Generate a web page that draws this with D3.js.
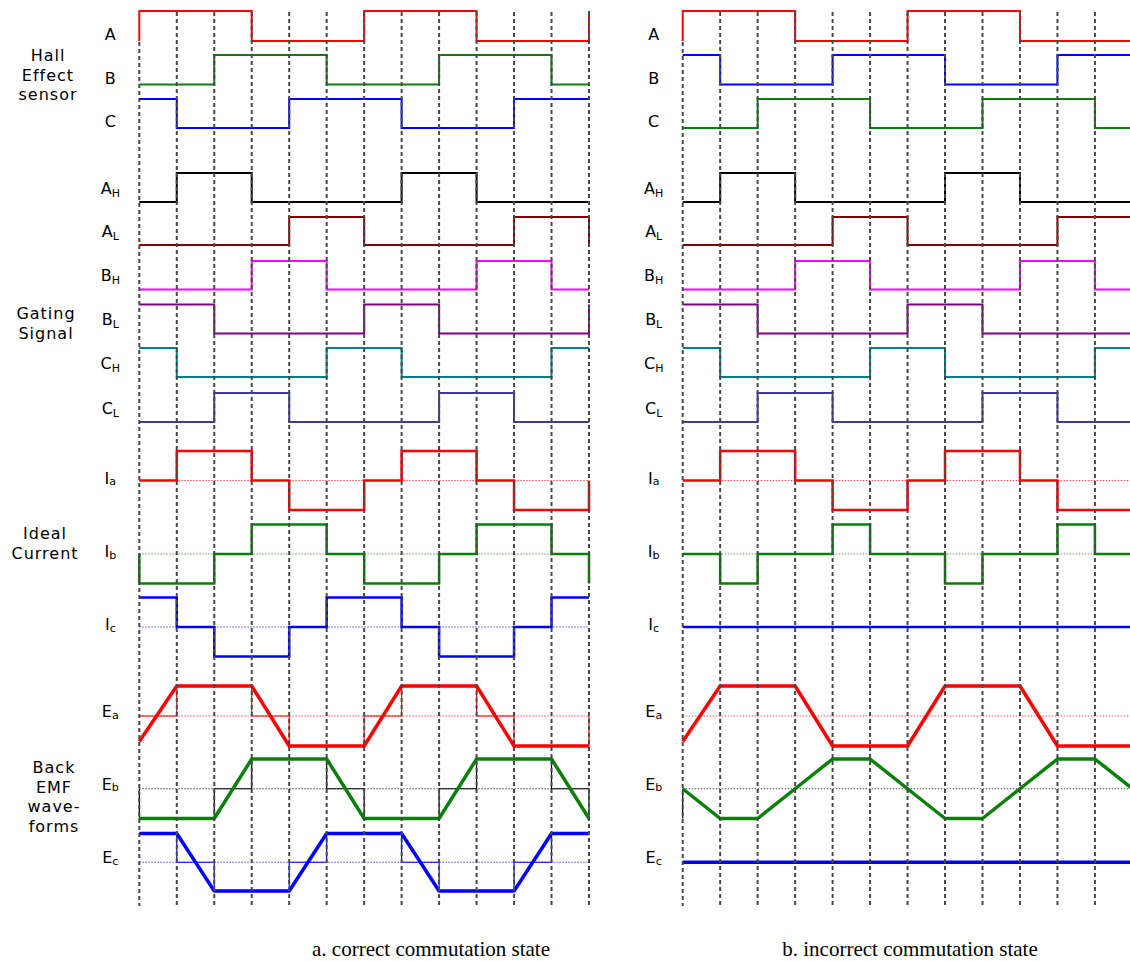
<!DOCTYPE html>
<html>
<head>
<meta charset="utf-8">
<script src="https://cdn.jsdelivr.net/npm/d3@7"></script>
<style>
  body { margin: 0; background: #fff; }
  svg text { font-family: "DejaVu Sans", Arial, sans-serif; fill: #000; }
  svg text.caption { font-family: "Liberation Serif", "Times New Roman", serif; }
</style>
</head>
<body>
<svg id="chart" width="1130" height="961"></svg>
<script>
// two electrical cycles, 12 commutation intervals of 60 deg
const steps = 12;

// step signals: [level before t=0, 12 interval levels, level after t=12]
const hallA  = [0, 1, 1, 1, 0, 0, 0, 1, 1, 1, 0, 0, 0, 1];
const hallB  = [0, 0, 0, 1, 1, 1, 0, 0, 0, 1, 1, 1, 0, 0];
const hallC  = [1, 1, 0, 0, 0, 1, 1, 1, 0, 0, 0, 1, 1, 1];
const gateAH = [0, 0, 1, 1, 0, 0, 0, 0, 1, 1, 0, 0, 0, 0];
const gateAL = [0, 0, 0, 0, 0, 1, 1, 0, 0, 0, 0, 1, 1, 0];
const gateBH = [0, 0, 0, 0, 1, 1, 0, 0, 0, 0, 1, 1, 0, 0];
const gateBL = [1, 1, 1, 0, 0, 0, 0, 1, 1, 0, 0, 0, 0, 1];
const gateCH = [1, 1, 0, 0, 0, 0, 1, 1, 0, 0, 0, 0, 1, 1];
const gateCL = [0, 0, 0, 1, 1, 0, 0, 0, 0, 1, 1, 0, 0, 0];
const curA   = [0, 0, 1, 1, 0, -1, -1, 0, 1, 1, 0, -1, -1, 0];
const curB   = [0, -1, -1, 0, 1, 1, 0, -1, -1, 0, 1, 1, 0, -1];
const curC   = [1, 1, 0, -1, -1, 0, 1, 1, 0, -1, -1, 0, 1, 1];
// incorrect commutation: sensors B and C swapped
const curBBad = [0, 0, -1, 0, 0, 1, 0, 0, -1, 0, 0, 1, 0, 0];
const curCBad = [0, 0, 0, 0, 0, 0, 0, 0, 0, 0, 0, 0, 0, 0];

// back EMF: value at each boundary t = 0..12
const emfA    = [-0.85, 1, 1, 1, -1, -1, -1, 1, 1, 1, -1, -1, -1];
const emfB    = [-1, -1, -1, 1, 1, 1, -1, -1, -1, 1, 1, 1, -1];
const emfC    = [1, 1, -1, -1, -1, 1, 1, 1, -1, -1, -1, 1, 1];
const emfBBad = [0, -1, -1, 0, 1, 1, 0, -1, -1, 0, 1, 1, 0];
const emfCBad = [0, 0, 0, 0, 0, 0, 0, 0, 0, 0, 0, 0, 0];
const emfBBadTrace = [[0, 0], [0, -1]];

const RED = '#ff0000', GREEN = '#0a800a', BLUE = '#0000ff';

const rows = [
    { key: 'A',  name: 'A', sub: '',  hi: 11,    lo: 41,    kind: 'hall' },
    { key: 'B',  name: 'B', sub: '',  hi: 55,    lo: 84.5,  kind: 'hall' },
    { key: 'C',  name: 'C', sub: '',  hi: 99,    lo: 128,   kind: 'hall' },
    { key: 'AH', name: 'A', sub: 'H', hi: 173,   lo: 202,   kind: 'gate' },
    { key: 'AL', name: 'A', sub: 'L', hi: 217,   lo: 245,   kind: 'gate' },
    { key: 'BH', name: 'B', sub: 'H', hi: 261,   lo: 289.5, kind: 'gate' },
    { key: 'BL', name: 'B', sub: 'L', hi: 304.5, lo: 333.5, kind: 'gate' },
    { key: 'CH', name: 'C', sub: 'H', hi: 348,   lo: 377,   kind: 'gate' },
    { key: 'CL', name: 'C', sub: 'L', hi: 393,   lo: 422,   kind: 'gate' },
    { key: 'Ia', name: 'I', sub: 'a', hi: 451,   lo: 510,   kind: 'cur' },
    { key: 'Ib', name: 'I', sub: 'b', hi: 524.5, lo: 583.5, kind: 'cur' },
    { key: 'Ic', name: 'I', sub: 'c', hi: 597.5, lo: 656.5, kind: 'cur' },
    { key: 'Ea', name: 'E', sub: 'a', hi: 686,   lo: 746,   kind: 'emf' },
    { key: 'Eb', name: 'E', sub: 'b', hi: 759,   lo: 818.5, kind: 'emf' },
    { key: 'Ec', name: 'E', sub: 'c', hi: 833.5, lo: 891,   kind: 'emf' }
];

const groups = [
    { lines: ['Hall', 'Effect', 'sensor'], x: 48, y: 61 },
    { lines: ['Gating', 'Signal'], x: 46, y: 319 },
    { lines: ['Ideal', 'Current'], x: 45, y: 539 },
    { lines: ['Back', 'EMF', 'wave-', 'forms'], x: 54, y: 773 }
];

function stepPoints(lv) {
    const pts = [[0, lv[0]]];
    for (let i = 0; i < steps; i++) {
        pts.push([i, lv[i + 1]], [i + 1, lv[i + 1]]);
    }
    pts.push([steps, lv[steps + 1]]);
    return pts;
}

const panels = [
    {
        x0: 139.3, caption: 'a. correct commutation state', capX: 431,
        series: {
            A: { v: hallA, c: RED }, B: { v: hallB, c: GREEN }, C: { v: hallC, c: BLUE },
            AH: { v: gateAH, c: '#000' }, AL: { v: gateAL, c: '#800000' },
            BH: { v: gateBH, c: '#ff00ff' }, BL: { v: gateBL, c: '#800080' },
            CH: { v: gateCH, c: '#008080' }, CL: { v: gateCL, c: '#3c3c9c' },
            Ia: { v: curA, c: RED }, Ib: { v: curB, c: GREEN }, Ic: { v: curC, c: BLUE },
            Ea: { v: emfA, c: RED, trace: stepPoints(curA), tc: RED, zc: RED },
            Eb: { v: emfB, c: GREEN, trace: stepPoints(curB), tc: '#000', zc: '#000' },
            Ec: { v: emfC, c: BLUE, trace: stepPoints(curC), tc: BLUE, zc: BLUE }
        }
    },
    {
        x0: 682.7, caption: 'b. incorrect commutation state', capX: 910,
        series: {
            A: { v: hallA, c: RED }, B: { v: hallC, c: BLUE }, C: { v: hallB, c: GREEN },
            AH: { v: gateAH, c: '#000' }, AL: { v: gateAL, c: '#800000' },
            BH: { v: gateBH, c: '#ff00ff' }, BL: { v: gateBL, c: '#800080' },
            CH: { v: gateCH, c: '#008080' }, CL: { v: gateCL, c: '#3c3c9c' },
            Ia: { v: curA, c: RED }, Ib: { v: curBBad, c: GREEN }, Ic: { v: curCBad, c: BLUE },
            Ea: { v: emfA, c: RED, zc: RED },
            Eb: { v: emfBBad, c: GREEN, trace: emfBBadTrace, tc: '#000', zc: '#000' },
            Ec: { v: emfCBad, c: BLUE, zc: BLUE }
        }
    }
];

const widths = { hall: 2, gate: 2, cur: 2.5, emf: 3.5 };

const svg = d3.select('#chart');
svg.append('rect').attr('width', 1130).attr('height', 961).attr('fill', '#fff');

panels.forEach(p => {
    const x = d3.scaleLinear().domain([0, steps]).range([p.x0, p.x0 + 449.7]);
    const g = svg.append('g');

    rows.forEach(r => {
        const s = p.series[r.key];
        const analog = r.kind === 'cur' || r.kind === 'emf';
        const y = d3.scaleLinear()
            .domain(analog ? [-1, 1] : [0, 1])
            .range([r.lo, r.hi]);
        const line = d3.line().x(d => x(d[0])).y(d => y(d[1]));

        if (analog) {
            // dotted zero reference
            g.append('path')
                .attr('d', line([[0, 0], [steps, 0]]))
                .attr('fill', 'none')
                .attr('stroke', s.zc || s.c)
                .attr('stroke-width', 1)
                .attr('stroke-dasharray', '1.5,1.5')
                .attr('opacity', 0.7);
        }

        if (r.kind === 'emf') {
            if (s.trace) {
                g.append('path')
                    .attr('d', line(s.trace))
                    .attr('fill', 'none')
                    .attr('stroke', s.tc)
                    .attr('stroke-width', 1.2);
            }
            g.append('path')
                .attr('d', line(s.v.map((v, i) => [i, v])))
                .attr('fill', 'none')
                .attr('stroke', s.c)
                .attr('stroke-width', widths.emf)
                .attr('stroke-linejoin', 'round');
        } else {
            g.append('path')
                .attr('d', line(stepPoints(s.v)))
                .attr('fill', 'none')
                .attr('stroke', s.c)
                .attr('stroke-width', widths[r.kind]);
        }

        // row label
        const mid = (r.hi + r.lo) / 2;
        let base;
        if (r.kind === 'hall') base = r.lo - 1;
        else if (r.kind === 'gate') base = mid + 6;
        else if (r.kind === 'cur') base = mid + 3;
        else base = mid + 1;

        const t = g.append('text')
            .attr('x', p.x0 - 29)
            .attr('y', base)
            .attr('text-anchor', 'middle')
            .style('font-size', '16px');
        t.append('tspan').text(r.name);
        if (r.sub) {
            t.append('tspan')
                .attr('dy', r.kind === 'gate' ? 3 : 1.5)
                .style('font-size', '11px')
                .text(r.sub);
        }
    });

    // dashed commutation instants (drawn over the traces)
    g.selectAll('line.grid')
        .data(d3.range(0, steps + 1))
        .enter()
        .append('line')
        .attr('class', 'grid')
        .attr('x1', d => x(d))
        .attr('x2', d => x(d))
        .attr('y1', d => d === 0 ? 42 : 12)
        .attr('y2', 906)
        .attr('stroke', '#484848')
        .attr('stroke-width', 2)
        .attr('stroke-dasharray', '4,3');

    svg.append('text')
        .attr('class', 'caption')
        .attr('x', p.capX)
        .attr('y', 956)
        .attr('text-anchor', 'middle')
        .style('font-size', '21px')
        .text(p.caption);
});

groups.forEach(gr => {
    const t = svg.append('text')
        .attr('x', gr.x)
        .attr('y', gr.y)
        .attr('text-anchor', 'middle')
        .style('font-size', '16px')
        .style('letter-spacing', '1px');
    gr.lines.forEach((l, i) => {
        t.append('tspan')
            .attr('x', gr.x)
            .attr('dy', i === 0 ? 0 : 19.5)
            .text(l);
    });
});
</script>
</body>
</html>
